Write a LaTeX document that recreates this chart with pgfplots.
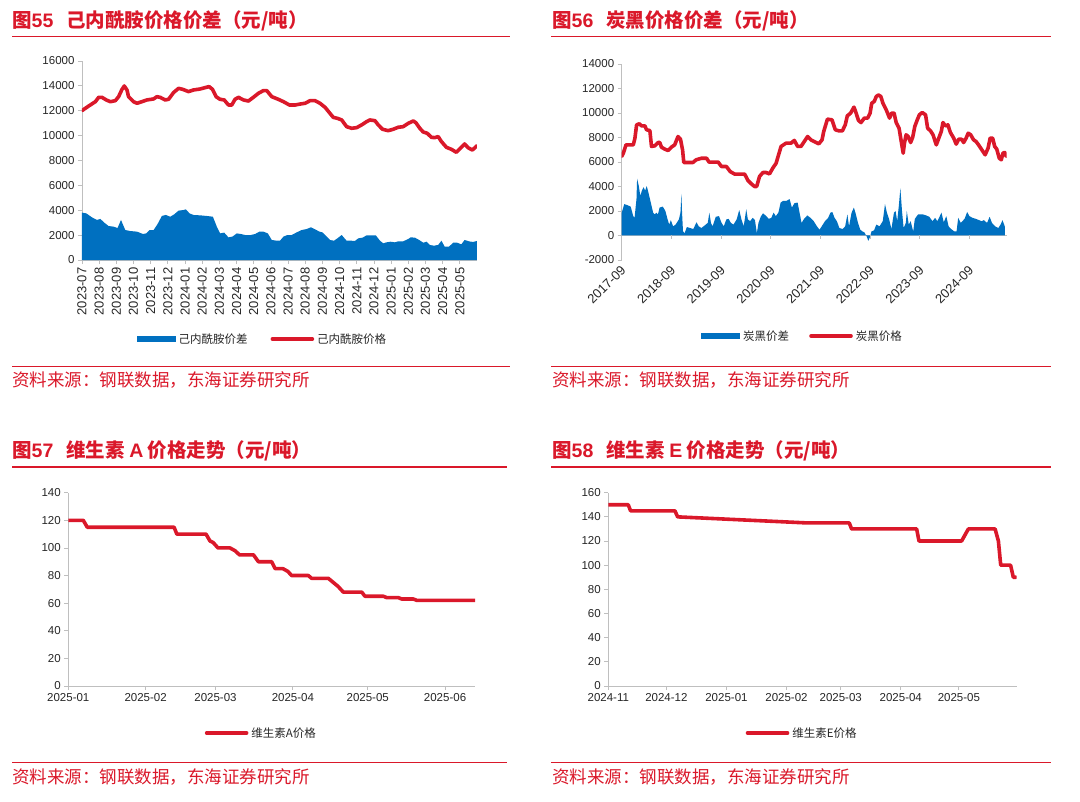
\documentclass[border=0pt]{standalone}
\usepackage{pgfplots}
\pgfplotsset{compat=1.18}
\usepackage{fontspec}
\setmainfont{Liberation Sans}
\newfontfamily\cjk{Noto Sans CJK SC}
\definecolor{dhred}{RGB}{218,24,42}
\definecolor{dhblue}{RGB}{0,112,192}
\definecolor{axgray}{RGB}{191,191,191}

\pgfplotsset{
  dh/.style={
    scale only axis,
    axis lines*=left,
    axis line style={axgray, line width=0.8pt},
    tick style={axgray, line width=0.8pt},
    tick align=outside,
    major tick length=4pt,
    scaled ticks=false,
    tick label style={font=\fontsize{11.5}{12}\selectfont, text=black!85},
    /pgf/number format/assume math mode=true,
    /pgf/number format/1000 sep={},
    legend style={draw=none, fill=none, anchor=center,
      font=\cjk\fontsize{11.5}{12}\selectfont, text=black!85,
      inner sep=0pt, nodes={inner sep=3pt}},
  },
  redline/.style={dhred, line width=3.6pt, line join=round, line cap=round,
    legend image code/.code={\draw[dhred, line width=3.6pt] (0pt,0pt) -- (40pt,0pt);}},
  bluearea/.style={fill=dhblue, draw=none,
    legend image code/.code={\fill[dhblue] (0pt,-3pt) rectangle (39pt,3pt);}},
}

\begin{document}
\begin{tikzpicture}[x=1pt, y=1pt]
\path (0,0) rectangle (1080,-802);

% ---------- titles, rules, sources ----------
\tikzset{ttl/.style={anchor=west, inner sep=0pt, text=dhred, font=\cjk\bfseries\fontsize{19.5}{20}\selectfont},
         src/.style={anchor=west, inner sep=0pt, text=dhred, font=\cjk\fontsize{17.5}{18}\selectfont}}
\node[ttl] at (12,-20.5) {图{\rmfamily 55}\hspace{13pt}己内酰胺价格价差（元/吨）};
\node[ttl] at (552,-20.5) {图{\rmfamily 56}\hspace{13pt}炭黑价格价差（元/吨）};
\node[ttl] at (12,-450.5) {图{\rmfamily 57}\hspace{13pt}维生素 {\rmfamily A} 价格走势（元/吨）};
\node[ttl] at (552,-450.5) {图{\rmfamily 58}\hspace{13pt}维生素 {\rmfamily E} 价格走势（元/吨）};
\draw[dhred, line width=1.6pt] (12,-36.7) -- (510,-36.7);
\draw[dhred, line width=1.6pt] (551,-36.7) -- (1051,-36.7);
\draw[dhred, line width=1.6pt] (12,-467.3) -- (507,-467.3);
\draw[dhred, line width=1.6pt] (551,-467.3) -- (1051,-467.3);
\draw[dhred, line width=1.6pt] (12,-366.5) -- (510,-366.5);
\draw[dhred, line width=1.6pt] (551,-366.5) -- (1051,-366.5);
\draw[dhred, line width=1.6pt] (12,-762.3) -- (507,-762.3);
\draw[dhred, line width=1.6pt] (551,-762.3) -- (1051,-762.3);
\node[src] at (12,-380) {资料来源：钢联数据，东海证券研究所};
\node[src] at (552,-380) {资料来源：钢联数据，东海证券研究所};
\node[src] at (12,-776.7) {资料来源：钢联数据，东海证券研究所};
\node[src] at (552,-776.7) {资料来源：钢联数据，东海证券研究所};

% ---------- Fig 55 ----------
\begin{axis}[dh, at={(82pt,-260pt)}, anchor=south west, width=395pt, height=199pt,
  xmin=0, xmax=23, ymin=0, ymax=16000, ytick={0,2000,...,16000},
  xtick={0,...,22},
  xticklabels={2023-07,2023-08,2023-09,2023-10,2023-11,2023-12,2024-01,2024-02,2024-03,2024-04,2024-05,2024-06,2024-07,2024-08,2024-09,2024-10,2024-11,2024-12,2025-01,2025-02,2025-03,2025-04,2025-05},
  xticklabel style={rotate=90, anchor=east, font=\fontsize{13}{14}\selectfont},
  legend columns=2,
  legend style={at={(0.458,-0.397)}, /tikz/every even column/.append style={column sep=20pt}}]
\addplot[bluearea] coordinates {
(0,0) (0,3810) (0.25,3750) (0.58,3430) (0.87,3220) (1.07,3300) (1.3,3000) (1.55,2730)
(1.84,2680) (2.07,2570) (2.27,3220) (2.52,2410) (2.81,2330) (3.2,2280) (3.55,2090)
(3.74,2140) (3.93,2410) (4.17,2410) (4.4,2890) (4.65,3540) (4.88,3620) (5.14,3480)
(5.37,3670) (5.62,3970) (5.91,4020) (6.05,4070) (6.26,3750) (6.49,3620) (6.88,3590)
(7.27,3540) (7.62,3480) (7.85,2680) (8.04,2140) (8.28,2200) (8.53,1820) (8.76,1880)
(9.01,2140) (9.24,2090) (9.5,2010) (9.83,2010) (10.08,2090) (10.33,2280) (10.56,2280)
(10.82,2140) (11.05,1610) (11.34,1550) (11.53,1550) (11.73,1880) (11.96,2010) (12.21,2010)
(12.5,2220) (12.79,2410) (13.08,2490) (13.33,2630) (13.57,2470) (13.82,2280) (14.01,2220)
(14.21,1930) (14.44,1610) (14.67,1550) (14.87,1740) (15.12,2010) (15.41,1550) (15.7,1550)
(15.89,1530) (16.09,1740) (16.34,1800) (16.57,1980) (16.86,1980) (17.11,1980) (17.35,1550)
(17.54,1340) (17.73,1420) (17.97,1470) (18.22,1420) (18.41,1500) (18.7,1500) (19.0,1690)
(19.13,1820) (19.38,1800) (19.63,1610) (19.87,1390) (20.06,1470) (20.25,1210) (20.49,1150)
(20.74,1210) (20.93,1550) (21.12,1070) (21.37,1070) (21.61,1390) (21.84,1390) (22.09,1260)
(22.28,1610) (22.53,1500) (22.77,1450) (23.0,1530) (23.0,0)} \closedcycle;
\addlegendentry{己内酰胺价差}
\addplot[redline] coordinates {
(0,12010) (0.39,12380) (0.78,12730) (0.97,13080) (1.16,13080) (1.41,12870) (1.65,12730)
(1.94,12810) (2.13,13130) (2.33,13720) (2.46,13990) (2.62,13670) (2.71,13130) (3.0,12730)
(3.2,12600) (3.49,12730) (3.78,12870) (4.17,12950) (4.36,13130) (4.55,13080) (4.84,12870)
(5.04,12920) (5.33,13460) (5.62,13800) (5.87,13720) (6.2,13540) (6.49,13670) (6.88,13750)
(7.17,13860) (7.4,13940) (7.6,13720) (7.81,13130) (8.04,12920) (8.28,12870) (8.53,12460)
(8.72,12460) (8.91,12920) (9.11,13080) (9.4,12870) (9.69,12780) (9.98,13080) (10.27,13400)
(10.56,13620) (10.76,13620) (11.05,13130) (11.43,12920) (11.73,12730) (12.08,12460)
(12.4,12460) (12.7,12540) (12.99,12600) (13.28,12810) (13.57,12810) (13.86,12600)
(14.15,12280) (14.44,11790) (14.63,11470) (14.87,11390) (15.12,11260) (15.41,10720)
(15.7,10590) (15.99,10640) (16.28,10860) (16.57,11120) (16.76,11260) (17.06,11200)
(17.25,10860) (17.5,10510) (17.83,10400) (18.12,10510) (18.41,10670) (18.7,10720)
(19.0,10990) (19.29,11180) (19.44,11040) (19.67,10590) (19.87,10290) (20.1,10190)
(20.35,9860) (20.54,9840) (20.74,9920) (20.93,9520) (21.22,9060) (21.51,8900) (21.8,8660)
(22.03,8980) (22.28,9330) (22.48,9030) (22.73,8840) (23.0,9190)};
\addlegendentry{己内酰胺价格}
\end{axis}

% ---------- Fig 56 ----------
\begin{axis}[dh, at={(621.7pt,-260pt)}, anchor=south west, width=385pt, height=196pt,
  xmin=0, xmax=93, ymin=-2000, ymax=14000, ytick={-2000,0,...,14000},
  x axis line style={draw=none}, xtick style={draw=none},
  extra y ticks={0}, extra y tick labels={},
  extra y tick style={grid=major, major grid style={axgray, line width=0.8pt}, major tick length=0pt},
  xtick={0,12,...,84},
  xticklabels={2017-09,2018-09,2019-09,2020-09,2021-09,2022-09,2023-09,2024-09},
  xticklabel style={rotate=45, anchor=east, xshift=2pt, yshift=-4pt, font=\fontsize{13}{14}\selectfont},
  legend columns=2,
  legend style={at={(0.471,-0.388)}, /tikz/every even column/.append style={column sep=17pt}}]
\addplot[bluearea] coordinates {
(0,0) (0,1860) (0.62,2560) (1.40,2470) (2.17,2360) (2.79,1580) (3.10,1440) (3.57,2970)
(3.72,4640) (4.11,4080) (4.50,3250) (4.89,3670) (5.27,3940) (5.66,3670) (6.05,4030)
(6.44,3530) (6.83,2970) (7.21,2420) (7.60,1860) (7.99,1720) (8.38,1860) (8.76,1720)
(9.15,2280) (9.93,2360) (10.55,2000) (11.09,1310) (11.48,890) (11.87,1250) (12.41,750)
(13.03,890) (13.81,1310) (14.19,1860) (14.43,3390) (14.58,1860) (14.81,330) (15.20,190)
(15.74,690) (16.52,610) (17.30,530) (18.07,1080) (18.61,750) (19.23,610) (20.01,810)
(20.79,1030) (21.17,1860) (21.56,1030) (21.95,750) (22.73,1530) (23.50,1580) (24.12,1030)
(24.66,750) (25.28,1310) (25.83,1360) (26.37,1030) (26.99,890) (27.77,1310) (28.39,2080)
(28.93,1310) (29.47,750) (30.09,2140) (30.48,1310) (31.02,1170) (31.64,1440) (32.19,1250)
(32.65,190) (33.04,1030) (33.58,1530) (34.13,1810) (34.75,1640) (35.52,1360) (36.14,1440)
(36.69,1860) (37.23,1580) (37.85,1860) (38.39,2690) (39.01,2830) (39.79,2830) (40.56,2970)
(41.11,2280) (41.73,2640) (42.50,2690) (42.89,2000) (43.44,1030) (44.06,1360) (44.83,1640)
(45.61,1440) (46.38,1170) (47.16,750) (47.78,470) (48.32,750) (49.10,1170) (49.87,1440)
(50.41,1860) (50.88,1920) (51.42,1440) (51.97,1170) (52.59,610) (53.36,530) (53.98,750)
(54.52,1720) (54.91,750) (55.53,1860) (56.08,2280) (56.46,1860) (57.08,1030) (57.63,470)
(58.17,330) (58.64,250) (59.18,-80) (59.57,-440) (59.95,-140) (60.34,330) (60.96,420)
(61.51,890) (62.28,750) (63.06,1170) (63.60,2560) (64.07,1860) (64.61,1310) (65.15,530)
(65.77,1860) (66.16,2000) (66.55,1170) (66.94,2420) (67.32,3860) (67.71,2000) (68.10,610)
(68.64,1030) (68.87,2000) (69.34,890) (69.80,1170) (70.42,330) (70.81,1360) (71.59,1720)
(72.75,1720) (73.53,1640) (74.30,1530) (75.08,1170) (75.70,1440) (76.24,1170) (77.25,1860)
(77.79,1080) (78.41,1580) (78.96,750) (79.58,530) (80.35,330) (80.89,330) (81.28,1440)
(81.90,1030) (82.83,1360) (83.45,1920) (84.0,1580) (84.77,1440) (85.55,1360) (86.33,1250)
(86.94,1170) (87.49,1250) (88.26,1030) (88.88,1530) (89.43,1030) (90.2,750) (90.98,610)
(91.52,890) (91.99,1250) (92.53,750) (92.53,0)} \closedcycle;
\addlegendentry{炭黑价差}
\pgfplotsinvokeforeach{12,24,36,48,60,72,84}{
  \draw[axgray, line width=0.8pt] (axis cs:#1,0) -- ++(0pt,-4pt);
}
\addplot[redline] coordinates {
(0,6450) (0.4,6720) (1.04,7400) (2.0,7400) (2.8,7400) (3.2,7950) (3.6,9030) (4.25,9120)
(4.8,8950) (5.6,8950) (6.0,8630) (6.8,8570) (7.2,7270) (8.0,7320) (8.8,7590) (9.2,7590)
(9.6,7210) (10.4,7050) (11.2,6940) (12.0,7210) (12.8,7400) (13.6,8080) (14.2,7860)
(14.7,6990) (15.0,5960) (16.0,5960) (17.2,5960) (18.0,6180) (19.3,6310) (20.5,6310)
(21.1,5990) (22.1,5990) (23.3,5990) (24.1,5630) (25.3,5630) (26.2,5220) (27.3,5010)
(28.5,5010) (29.7,5010) (30.5,4490) (31.3,4220) (32.1,4000) (32.6,4000) (33.3,4820)
(34.1,5140) (34.9,5140) (35.7,5030) (36.5,5500) (37.3,5900) (37.9,6590) (38.5,7270)
(39.7,7540) (40.9,7540) (41.7,7760) (42.5,7270) (43.3,7270) (44.1,7670) (44.9,8080)
(45.7,7810) (46.5,7670) (47.6,7480) (48.4,7810) (48.8,8490) (49.7,9500) (50.8,9440)
(51.6,8630) (52.5,8540) (53.3,8540) (54.0,9030) (54.5,9770) (55.3,9990) (56.1,10480)
(56.5,10120) (57.2,9390) (57.8,9220) (58.6,9580) (59.4,9580) (60.0,9990) (60.4,10800)
(61.0,10940) (61.5,11350) (62.0,11470) (62.6,11350) (63.1,10800) (63.9,10260) (64.7,9580)
(65.2,9990) (65.8,9990) (66.3,9220) (67.0,8760) (67.6,7540) (68.0,6720) (68.3,7540)
(68.7,8220) (69.2,8080) (69.8,7590) (70.3,8030) (70.8,8900) (71.4,9440) (71.9,9850)
(72.6,10040) (73.4,9850) (73.9,8760) (74.6,8540) (75.2,8220) (76.0,7400) (76.6,7950)
(77.2,8490) (77.6,9220) (78.2,8950) (78.8,9030) (79.4,8410) (80.2,7950) (80.8,7460)
(81.4,7860) (82.1,7860) (82.6,7590) (83.2,7950) (83.7,8350) (84.3,8220) (85.0,7810)
(85.6,7670) (86.2,7400) (87.0,6990) (87.8,6590) (88.5,7130) (89.0,7950) (89.6,7950)
(90.1,7270) (90.6,7050) (91.2,6310) (91.7,6180) (92.1,6720) (92.5,6780) (92.9,6450)};
\addlegendentry{炭黑价格}
\end{axis}

% ---------- Fig 57 ----------
\begin{axis}[dh, at={(68.3pt,-686pt)}, anchor=south west, width=406.7pt, height=193.3pt,
  xmin=0, xmax=163, ymin=0, ymax=140, ytick={0,20,...,140},
  xtick={0,31,59,90,120,151},
  xticklabels={2025-01,2025-02,2025-03,2025-04,2025-05,2025-06},
  legend style={at={(0.476,-0.243)}}]
\addplot[redline] coordinates {
(0,120) (6,120) (7.6,115) (42.4,115) (43.5,110) (55.2,110) (56.8,105) (58,104) (60,100)
(64.8,100) (66.8,98) (68.6,95) (74.2,95) (76.2,90) (81.5,90) (82.9,85) (86,85) (88,83)
(89.5,80) (96.2,80) (97.5,78) (104.2,78) (106.2,75) (108.2,72) (110.2,68) (117.6,68)
(118.9,65) (126.3,65) (127.6,64) (132.3,64) (133.6,63) (138.3,63) (139.7,62) (163,62)};
\addlegendentry{维生素A价格}
\end{axis}

% ---------- Fig 58 ----------
\begin{axis}[dh, at={(608.3pt,-686pt)}, anchor=south west, width=408.3pt, height=193.3pt,
  xmin=0, xmax=210.8, ymin=0, ymax=160, ytick={0,20,...,160},
  xtick={0,30,61,92,120,151,181},
  xticklabels={2024-11,2024-12,2025-01,2025-02,2025-03,2025-04,2025-05},
  legend style={at={(0.476,-0.243)}}]
\addplot[redline] coordinates {
(0,150) (10.3,150) (11.5,145) (34.4,145) (35.8,140) (102.4,135) (124.4,135) (125.6,130)
(159.2,130) (160.4,120) (182.4,120) (185.9,130) (199.7,130) (201.4,120) (202.6,100)
(207.7,100) (209.1,90) (210.5,90)};
\addlegendentry{维生素E价格}
\end{axis}
\end{tikzpicture}
\end{document}
